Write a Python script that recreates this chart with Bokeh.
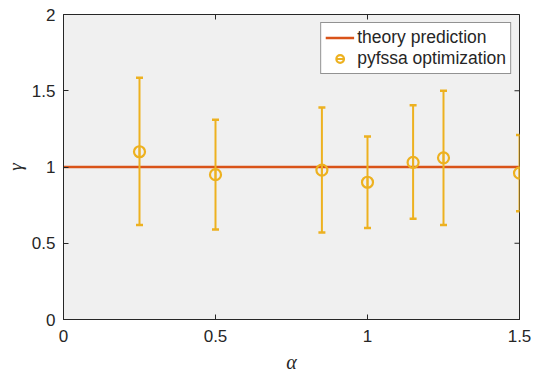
import math
from bokeh.plotting import figure
from bokeh.models import FixedTicker, Range1d, Legend, LegendItem
from bokeh.embed import file_html
from bokeh.resources import INLINE

# ---- data ----
alpha = [0.25, 0.5, 0.85, 1.0, 1.15, 1.25, 1.5]
gamma = [1.10, 0.95, 0.98, 0.90, 1.03, 1.06, 0.96]
gamma_upper = [1.585, 1.31, 1.39, 1.20, 1.405, 1.50, 1.21]
gamma_lower = [0.62, 0.59, 0.57, 0.60, 0.66, 0.62, 0.71]
theory_alpha = [0.0, 1.5]
theory_gamma = [1.0, 1.0]
x_ticks = [0, 0.5, 1, 1.5]
x_tick_labels = ["0", "0.5", "1", "1.5"]
y_ticks = [0, 0.5, 1, 1.5, 2]
y_tick_labels = ["0", "0.5", "1", "1.5", "2"]

RED = "#D95319"
YEL = "#EDB120"
DARK = "#262626"

p = figure(width=533, height=375, output_backend="svg", toolbar_location=None,
           x_range=Range1d(x_ticks[0], x_ticks[-1]),
           y_range=Range1d(y_ticks[0], y_ticks[-1]),
           min_border_left=63, min_border_right=14, min_border_top=14,
           min_border_bottom=55,
           background_fill_color="#F0F0F0", border_fill_color="white")
p.xgrid.visible = False
p.ygrid.visible = False
p.outline_line_color = DARK
p.outline_line_width = 1
p.outline_line_alpha = 1

# inward tick marks on the top and right edges of the box (clipped to frame)
p.scatter(x_ticks, [y_ticks[-1]] * len(x_ticks), marker="dash", angle=math.pi / 2,
          size=10, line_color=DARK, line_width=1)
p.scatter([x_ticks[-1]] * len(y_ticks), y_ticks, marker="dash",
          size=10, line_color=DARK, line_width=1)

r_line = p.line(theory_alpha, theory_gamma, line_color=RED, line_width=2.5)

p.segment(x0=alpha, y0=gamma_lower, x1=alpha, y1=gamma_upper,
          line_color=YEL, line_width=2)
p.scatter(alpha, gamma_upper, marker="dash", size=7, line_color=YEL, line_width=2.5)
p.scatter(alpha, gamma_lower, marker="dash", size=7, line_color=YEL, line_width=2.5)
r_vdash = p.scatter(alpha, gamma, marker="dash", angle=math.pi / 2, size=12,
                    line_color=YEL, line_width=2)
r_circ = p.scatter(alpha, gamma, marker="circle", size=11, fill_color=None,
                   line_color=YEL, line_width=2.2)


def style(ax, standoff, label_size):
    ax.major_tick_in = 5
    ax.major_tick_out = 0
    ax.minor_tick_line_color = None
    ax.axis_line_color = DARK
    ax.major_tick_line_color = DARK
    ax.major_label_text_font = "Liberation Sans"
    ax.major_label_text_color = DARK
    ax.major_label_text_font_size = "17px"
    ax.major_label_standoff = standoff
    ax.axis_label_text_font = "Liberation Serif"
    ax.axis_label_text_font_style = "italic"
    ax.axis_label_text_font_size = label_size
    ax.axis_label_text_color = DARK


p.xaxis.ticker = FixedTicker(ticks=x_ticks)
p.yaxis.ticker = FixedTicker(ticks=y_ticks)
p.xaxis.major_label_overrides = {t: l for t, l in zip(x_ticks, x_tick_labels)}
p.yaxis.major_label_overrides = {t: l for t, l in zip(y_ticks, y_tick_labels)}
style(p.xaxis[0], 10, "20px")
style(p.yaxis[0], 8, "19px")

p.xaxis.axis_label = "α"
p.yaxis.axis_label = "γ"
p.xaxis.axis_label_standoff = 6
p.yaxis.axis_label_standoff = 3

legend = Legend(items=[
    LegendItem(label="theory prediction", renderers=[r_line]),
    LegendItem(label="pyfssa optimization", renderers=[r_vdash, r_circ]),
], location="top_right", margin=8, padding=4, spacing=0,
    glyph_width=29, glyph_height=19, label_height=19, label_standoff=3,
    label_text_font="Liberation Sans", label_text_font_size="17.5px",
    label_text_color=DARK,
    border_line_color=DARK, border_line_width=1,
    background_fill_color="white", background_fill_alpha=1)
p.add_layout(legend)

open("out.html", "w").write(file_html(p, INLINE))
